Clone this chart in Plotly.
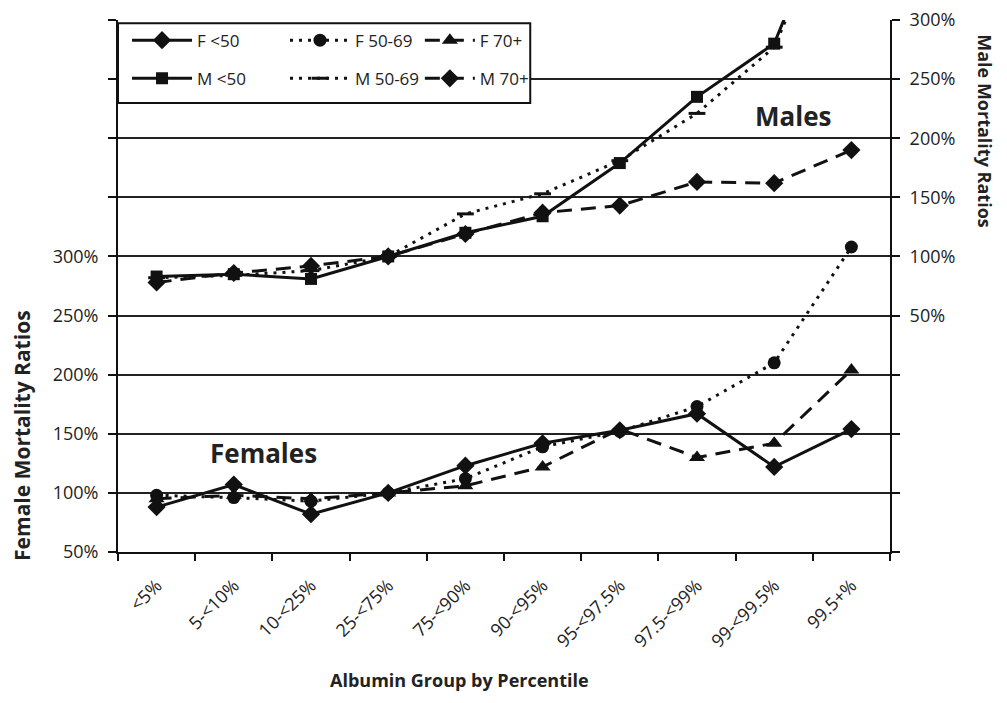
import plotly.graph_objects as go

categories = ["<5%", "5-<10%", "10-<25%", "25-<75%", "75-<90%", "90-<95%",
              "95-<97.5%", "97.5-<99%", "99-<99.5%", "99.5+%"]

# Female mortality ratios (%), left axis
f_lt50 = [88, 107, 82, 100, 123, 142, 153, 167, 122, 154]
f_50_69 = [98, 96, 93, 100, 112, 139, 152, 173, 210, 308]
f_70p = [95, 98, 95, 100, 106, 122, 154, 130, 142, 204]

# Male mortality ratios (%), right axis
m_lt50 = [83, 85, 81, 100, 120, 134, 179, 235, 280, 440]
m_50_69 = [82, 84, 88, 100, 136, 153, 181, 221, 277, 430]
m_70p = [78, 86, 92, 100, 119, 137, 143, 163, 162, 190]

left_ticks = [50, 100, 150, 200, 250, 300, 350, 400, 450, 500]
left_labels = ["50%", "100%", "150%", "200%", "250%", "300%", "", "", "", ""]
right_ticks = [-150, -100, -50, 0, 50, 100, 150, 200, 250, 300]
right_labels = ["", "", "", "", "50%", "100%", "150%", "200%", "250%", "300%"]

INK = "#111111"
TXT = "#222222"
FONT = "Open Sans"
DOT = "3px,6px"
DASH = "15px,9px"

fig = go.Figure()

series = [
    ("F <50", f_lt50, "y", "solid", "diamond", 14, "legend"),
    ("M <50", m_lt50, "y2", "solid", "square", 12, "legend"),
    ("F 50-69", f_50_69, "y", DOT, "circle", 13, "legend2"),
    ("M 50-69", m_50_69, "y2", DOT, "line-ew", 12, "legend2"),
    ("F 70+", f_70p, "y", DASH, "triangle-up", 14, "legend3"),
    ("M 70+", m_70p, "y2", DASH, "diamond", 14, "legend3"),
]
for name, vals, yax, dash, sym, size, leg in series:
    fig.add_trace(go.Scatter(
        x=categories, y=vals, name=name, yaxis=yax, mode="lines+markers",
        line=dict(color=INK, width=3, dash=dash),
        marker=dict(symbol=sym, size=size, color=INK,
                    line=dict(color=INK, width=3 if sym == "line-ew" else 0)),
        legend=leg, legendgroup=name,
    ))

def leg(x, iw):
    return dict(
        orientation="v", x=x, y=0.995, xanchor="left", yanchor="top",
        bgcolor="rgba(0,0,0,0)", borderwidth=0,
        font=dict(family=FONT, size=17, color=TXT),
        itemwidth=iw, traceorder="grouped", tracegroupgap=13,
    )

fig.update_layout(
    width=991, height=687,
    margin=dict(l=110, r=109, t=12, b=143, autoexpand=False),
    paper_bgcolor="white", plot_bgcolor="white",
    font=dict(family=FONT, size=17, color=TXT),
    showlegend=True,
    legend=leg(0.0117, 60),
    legend2=leg(0.2163, 60),
    legend3=leg(0.391, 50),
    xaxis=dict(
        type="category", range=[-0.5, 9.5], tickangle=-45,
        ticks="outside", tickson="boundaries", ticklen=7, tickwidth=1.5,
        tickcolor=INK, showline=True, linecolor=INK, linewidth=2,
        showgrid=False, ticklabelstandoff=14, automargin=False,
        tickfont=dict(family=FONT, size=18, color=TXT),
    ),
    yaxis=dict(
        range=[50, 500], tickvals=left_ticks, ticktext=left_labels,
        ticks="outside", ticklen=8, tickwidth=1.5, tickcolor=INK,
        showline=True, linecolor=INK, linewidth=2,
        showgrid=True, gridcolor="#222", gridwidth=1.5, zeroline=False,
        ticklabelstandoff=6, automargin=False,
        tickfont=dict(family=FONT, size=18, color=TXT),
    ),
    yaxis2=dict(
        range=[-150, 300], tickvals=right_ticks, ticktext=right_labels,
        overlaying="y", side="right", anchor="x",
        ticks="outside", ticklen=8, tickwidth=1.5, tickcolor=INK,
        showline=True, linecolor=INK, linewidth=2,
        showgrid=False, zeroline=False, ticklabelstandoff=6,
        ticklabeloverflow="allow", automargin=False,
        tickfont=dict(family=FONT, size=18, color=TXT),
    ),
    shapes=[dict(
        type="rect", xref="paper", yref="paper",
        x0=0, x1=0.534, y0=0.844, y1=0.994,
        fillcolor="white", line=dict(color=INK, width=2), layer="above",
    )],
    annotations=[
        dict(text="<b>Males</b>", x=0.874, y=0.8195, xref="paper", yref="paper",
             xanchor="center", yanchor="middle", showarrow=False,
             font=dict(family=FONT, size=26, color=TXT)),
        dict(text="<b>Females</b>", x=0.188, y=0.186, xref="paper", yref="paper",
             xanchor="center", yanchor="middle", showarrow=False,
             font=dict(family=FONT, size=26, color=TXT)),
        dict(text="<b>Female Mortality Ratios</b>", x=-0.1244, y=0.22,
             xref="paper", yref="paper", xanchor="center", yanchor="middle",
             showarrow=False, textangle=-90,
             font=dict(family=FONT, size=21, color=TXT)),
        dict(text="<b>Male Mortality Ratios</b>", x=1.123, y=0.791,
             xref="paper", yref="paper", xanchor="center", yanchor="middle",
             showarrow=False, textangle=90,
             font=dict(family=FONT, size=18, color=TXT)),
        dict(text="<b>Albumin Group by Percentile</b>", x=0.443, y=-0.2406,
             xref="paper", yref="paper", xanchor="center", yanchor="middle",
             showarrow=False,
             font=dict(family=FONT, size=18, color=TXT)),
    ],
)

fig.write_html("out.html")
